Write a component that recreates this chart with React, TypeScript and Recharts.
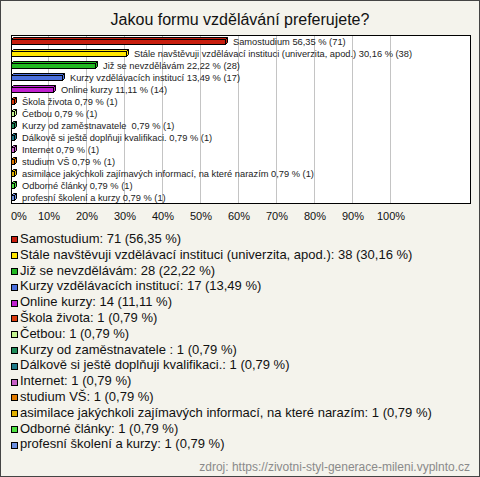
import React from 'react';
import { BarChart, Bar, XAxis, YAxis, CartesianGrid, Cell, LabelList, ReferenceArea } from 'recharts';

const title = 'Jakou formu vzdělávání preferujete?';
const source = 'zdroj: https://zivotni-styl-generace-mileni.vyplnto.cz';

const categories = [
  'Samostudium',
  'Stále navštěvuji vzdělávací instituci (univerzita, apod.)',
  'Již se nevzdělávám',
  'Kurzy vzdělávacích institucí',
  'Online kurzy',
  'Škola života',
  'Četbou',
  'Kurzy od zaměstnavatele ',
  'Dálkově si ještě doplňuji kvalifikaci.',
  'Internet',
  'studium VŠ',
  'asimilace jakýchkoli zajímavých informací, na které narazím',
  'Odborné články',
  'profesní školení a kurzy',
];
const counts = [71, 38, 28, 17, 14, 1, 1, 1, 1, 1, 1, 1, 1, 1];
const percents = [56.35, 30.16, 22.22, 13.49, 11.11, 0.79, 0.79, 0.79, 0.79, 0.79, 0.79, 0.79, 0.79, 0.79];
const colors = [
  '#c81e0e', '#ffe600', '#22b822', '#4a6fdc', '#c020d0', '#d83a0c', '#c4f490',
  '#1f8c5a', '#1f7a8a', '#c65ec6', '#e07a00', '#e0b000', '#4ee040', '#6c8fe0',
];
const tickValues = [0, 10, 20, 30, 40, 50, 60, 70, 80, 90, 100];
const axisMax = 120.79;

const fmt = (v: number) => v.toFixed(2).replace('.', ',');

const data = categories.map((name, i) => ({
  name,
  pct: percents[i],
  label: `${name} ${fmt(percents[i])} % (${counts[i]})`,
}));

const D = 2;

const Bar3D = (props: any) => {
  const { x, y, width, height, fill } = props;
  const x0 = Math.round(x) + 0.5;
  const y0 = Math.round(y) + 0.5;
  const w = Math.max(Math.round(width), 2);
  const h = Math.round(height);
  return (
    <g stroke="#000" strokeWidth={1}>
      <polygon points={`${x0},${y0} ${x0 + D},${y0 - D} ${x0 + w + D},${y0 - D} ${x0 + w},${y0}`} fill={fill} />
      <polygon points={`${x0 + w},${y0} ${x0 + w + D},${y0 - D} ${x0 + w + D},${y0 + h - D} ${x0 + w},${y0 + h}`} fill={fill} />
      <rect x={x0} y={y0} width={w} height={h} fill={fill} />
    </g>
  );
};

const BarLabel = (props: any) => {
  const { x, y, width, height, value } = props;
  const w = Math.max(Math.round(width), 2);
  return (
    <text
      x={Math.round(x) + w + D + 6}
      y={y + height / 2}
      dy="0.35em"
      fontSize={9.3}
      fill="#222"
      fontFamily="Arial, 'Liberation Sans', sans-serif"
      style={{ whiteSpace: 'pre' }}
    >
      {value}
    </text>
  );
};

const Tick = (props: any) => {
  const { x, y, payload } = props;
  const v = payload.value;
  return (
    <text
      x={v === 0 ? x : x}
      y={y + 1}
      dy="0.71em"
      textAnchor={v === 0 ? 'start' : 'middle'}
      fontSize={11}
      fill="#111"
      fontFamily="Arial, 'Liberation Sans', sans-serif"
    >
      {`${v}%`}
    </text>
  );
};

export default function App() {
  return (
    <div
      style={{
        position: 'absolute',
        left: 0,
        top: 0,
        width: 480,
        height: 477,
        background: '#f4f3ec',
        boxShadow: 'inset 0 0 0 1px #444',
        fontFamily: "Arial, 'Liberation Sans', sans-serif",
        overflow: 'hidden',
      }}
    >
      <div
        style={{
          position: 'absolute',
          left: 0,
          top: 10,
          width: 480,
          textAlign: 'center',
          fontSize: 16,
          lineHeight: '20px',
          color: '#111',
        }}
      >
        {title}
      </div>
      <div style={{ position: 'absolute', left: 0, top: 0 }}>
        <BarChart
          width={480}
          height={225}
          data={data}
          layout="vertical"
          margin={{ top: 35, right: 10, bottom: 2, left: 11 }}
          barCategoryGap={0}
        >
          <CartesianGrid horizontal={false} vertical stroke="#c4c4c4" fill="#fff" shapeRendering="crispEdges" />
          <XAxis
            type="number"
            domain={[0, axisMax]}
            ticks={tickValues}
            interval={0}
            axisLine={false}
            tickLine={false}
            height={20}
            tick={<Tick />}
          />
          <YAxis type="category" dataKey="name" hide />
          <Bar dataKey="pct" barSize={5} isAnimationActive={false} shape={<Bar3D />}>
            {data.map((_, i) => (
              <Cell key={i} fill={colors[i]} />
            ))}
            <LabelList dataKey="label" content={<BarLabel />} />
          </Bar>
          <ReferenceArea x1={0} x2={axisMax} fill="none" stroke="#000" strokeWidth={1} shapeRendering="crispEdges" ifOverflow="visible" />
        </BarChart>
      </div>
      <div style={{ position: 'absolute', left: 11, top: 231 }}>
        {categories.map((name, i) => (
          <div key={i} style={{ height: 15.8, lineHeight: '15.8px', fontSize: 13, color: '#111', whiteSpace: 'pre', display: 'flex', alignItems: 'center' }}>
            <span
              style={{
                display: 'inline-block',
                width: 7,
                height: 7,
                boxSizing: 'border-box',
                border: '1px solid #000',
                background: colors[i],
                marginRight: 2,
                marginTop: 2,
              }}
            />
            <span>{`${name}: ${counts[i]} (${fmt(percents[i])} %)`}</span>
          </div>
        ))}
      </div>
      <div
        style={{
          position: 'absolute',
          right: 10,
          top: 459,
          fontSize: 12,
          lineHeight: '16px',
          color: '#8a8a8a',
        }}
      >
        {source}
      </div>
    </div>
  );
}
